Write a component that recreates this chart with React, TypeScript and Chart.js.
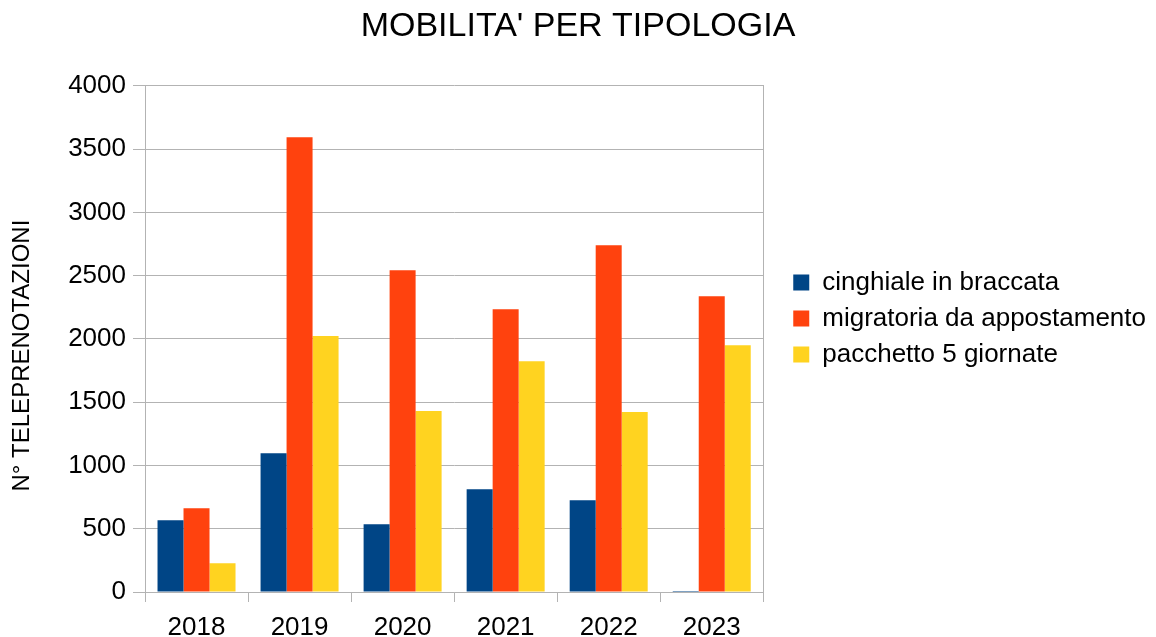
import React, { useEffect, useRef } from "react";
import { Chart, registerables } from "chart.js";

Chart.register(...registerables);

const years = ["2018", "2019", "2020", "2021", "2022", "2023"];
const cinghiale = [567, 1096, 535, 812, 725, 8];
const migratoria = [662, 3594, 2543, 2235, 2741, 2338];
const pacchetto = [227, 2022, 1431, 1823, 1422, 1950];
const seriesNames = ["cinghiale in braccata", "migratoria da appostamento", "pacchetto 5 giornate"];
const seriesColors = ["#004586", "#ff420e", "#ffd320"];
const titleText = "MOBILITA' PER TIPOLOGIA";
const yTitle = "N° TELEPRENOTAZIONI";

const FONT = "'Liberation Sans', Arial, sans-serif";
const GRID = "#b3b3b3";

export default function App() {
  const ref = useRef<HTMLCanvasElement | null>(null);

  useEffect(() => {
    if (!ref.current) return;
    const values = [cinghiale, migratoria, pacchetto];
    const chart = new Chart(ref.current, {
      type: "bar",
      data: {
        labels: years,
        datasets: values.map((v, i) => ({
          label: seriesNames[i],
          data: v,
          backgroundColor: seriesColors[i],
          borderWidth: 0,
          categoryPercentage: 0.757,
          barPercentage: 1,
          yAxisID: "y",
        })),
      },
      options: {
        animation: false,
        responsive: true,
        maintainAspectRatio: false,
        layout: { padding: 0 },
        plugins: {
          title: {
            display: true,
            text: titleText,
            color: "#000",
            font: { family: FONT, size: 34, weight: "normal" },
            padding: { top: 6, bottom: 39 },
          },
          legend: {
            display: true,
            position: "right",
            maxWidth: 420,
            labels: {
              color: "#000",
              font: { family: FONT, size: 26 },
              boxWidth: 16,
              boxHeight: 16,
              padding: 10,
            },
          },
          tooltip: { enabled: false },
        },
        scales: {
          x: {
            grid: {
              display: true,
              drawOnChartArea: false,
              drawTicks: true,
              tickLength: 10,
              color: GRID,
              offset: true,
            },
            border: { display: true, color: GRID },
            ticks: {
              color: "#000",
              font: { family: FONT, size: 26 },
              padding: 10,
              maxRotation: 0,
            },
            afterFit: (s: any) => {
              s.height = 45;
            },
          },
          y: {
            min: 0,
            max: 4000,
            ticks: {
              stepSize: 500,
              color: "#000",
              font: { family: FONT, size: 26 },
              padding: 7,
              callback: (v: any) => String(v),
            },
            grid: { color: GRID, tickLength: 12 },
            border: { display: true, color: GRID },
            title: {
              display: true,
              text: yTitle + "     ",
              color: "#000",
              font: { family: FONT, size: 24 },
              padding: { top: 8, bottom: 0 },
            },
            afterFit: (s: any) => {
              s.width = 145;
            },
          },
          spacer: {
            type: "linear",
            axis: "y",
            position: "right",
            display: true,
            min: 0,
            max: 1,
            grid: { display: false, drawOnChartArea: false, drawTicks: false },
            ticks: { display: false },
            border: { display: true, color: GRID },
            afterFit: (s: any) => {
              s.width = 20;
            },
          },
        },
      } as any,
    });
    return () => chart.destroy();
  }, []);

  return (
    <div style={{ position: "absolute", left: 0, top: 0, width: 1156, height: 637, background: "#fff" }}>
      <canvas ref={ref} />
    </div>
  );
}
